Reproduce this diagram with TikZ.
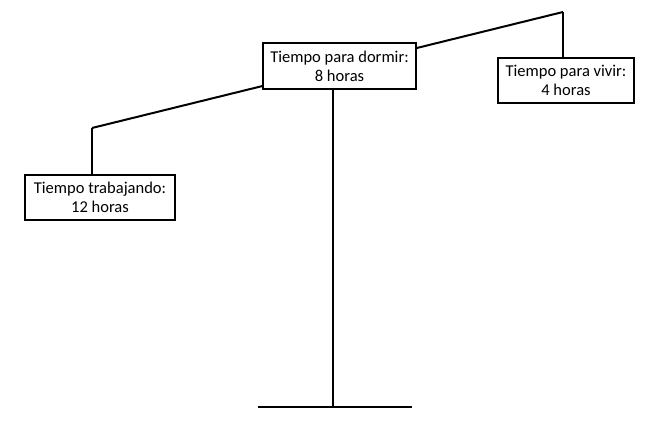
\documentclass[tikz,border=0pt]{standalone}
\usepackage{fontspec}
\setmainfont{Carlito}
\usepackage{tikz}
\definecolor{lineblack}{RGB}{0, 0, 0}
\tikzstyle{scale_box}=[rectangle, draw=lineblack, fill=white, text=black, align=center,
    line width=1.5pt, inner sep=2pt, font=\fontsize{12.4}{14.5}\selectfont]
\tikzstyle{scale_line}=[line width=1.5pt, draw=lineblack]

\begin{document}
\begin{tikzpicture}[x=0.75pt, y=-0.75pt]
  % Fix the size of the page
  \useasboundingbox (0,0) rectangle (658,421);

  % Ends of the beam, the foot of the post
  \coordinate (beam_left) at (92,128);
  \coordinate (beam_right) at (563,12);
  \coordinate (post_foot) at (332.7,406.7);
  \coordinate (base_left) at (258,406.7);
  \coordinate (base_right) at (411.7,406.7);

  % Tilted beam, drawn first so that the middle box sits on top of it
  \draw[scale_line] (beam_left) -- (beam_right);

  % Boxes, placed a bit by hand
  \node[scale_box, minimum width=153*0.75pt, minimum height=45.5*0.75pt] (dormir) at (339.5,66) {Tiempo para dormir:\\8 horas};
  \node[scale_box, minimum width=135.5*0.75pt, minimum height=44.5*0.75pt] (vivir) at (566,80.5) {Tiempo para vivir:\\4 horas};
  \node[scale_box, minimum width=149.5*0.75pt, minimum height=45*0.75pt] (trabajo) at (100,197.5) {Tiempo trabajando:\\12 horas};

  % Hangers down to the side boxes
  \draw[scale_line] (beam_left) -- (beam_left |- trabajo.north);
  \draw[scale_line] (beam_right) -- (beam_right |- vivir.north);

  % Post and base
  \draw[scale_line] (post_foot |- dormir.south) -- (post_foot);
  \draw[scale_line] (base_left) -- (base_right);

\end{tikzpicture}
\end{document}
